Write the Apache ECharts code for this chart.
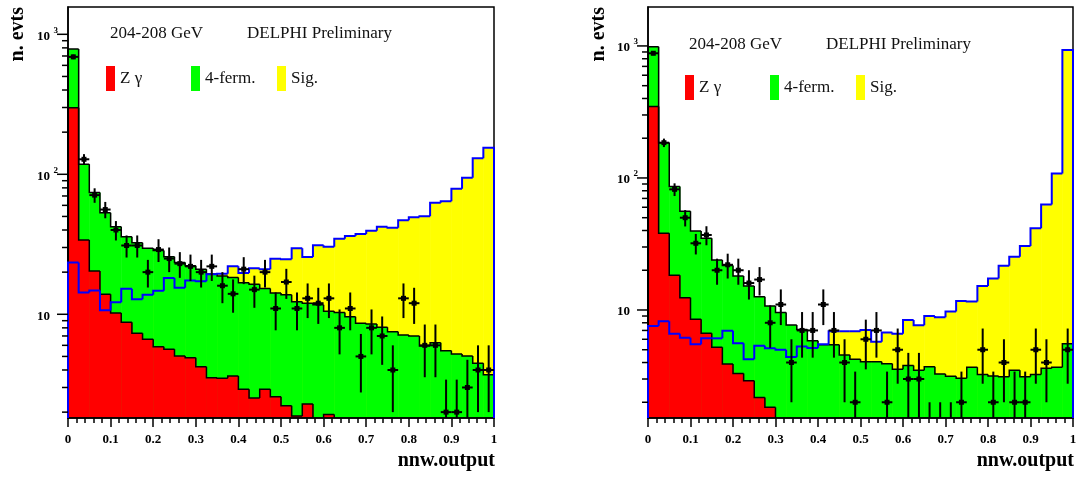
<!DOCTYPE html>
<html><head><meta charset="utf-8">
<script src="https://cdn.jsdelivr.net/npm/echarts@6/dist/echarts.min.js"></script>
<style>html,body{margin:0;padding:0;background:#fff}#c{width:1078px;height:477px}</style>
</head><body><div id="c"></div>
<script>
// ---------- data ----------
const nBins = 40;
const binWidth = 0.025;
const xTickLabels = ['0','0.1','0.2','0.3','0.4','0.5','0.6','0.7','0.8','0.9','1'];
const legendNames = ['Z γ', '4-ferm.', 'Sig.'];
const energyLabel = '204-208 GeV';
const expLabel = 'DELPHI Preliminary';
const yTitle = 'n. evts';
const xTitle = 'nnw.output';

// Left panel
const leftZgamma = [299, 33.9, 20.4, 13.9, 10.2, 8.77, 7.31, 6.63, 5.87, 5.62, 5.04, 4.9, 4.22, 3.52, 3.49, 3.62, 2.91, 2.52, 2.91, 2.58, 2.22, 1.88, 2.29, 0, 1.92, 0, 0, 0, 0, 0, 0, 0, 0, 0, 0, 0, 0, 0, 0, 0];
const leftTotalBkg = [785, 118, 74, 53.2, 42.2, 35.8, 32.5, 29.6, 28.5, 25.8, 23.4, 22.2, 21.0, 19.4, 18.8, 18.3, 16.8, 16.4, 15.3, 14.2, 13.8, 12.3, 12.0, 11.7, 10.5, 10.3, 9.6, 8.62, 8.53, 8.07, 7.51, 7.12, 7.0, 5.94, 6.27, 5.5, 5.21, 5.04, 4.47, 3.7];
const leftSignal = [23.4, 14.3, 14.8, 10.7, 12.2, 15.2, 12.8, 13.8, 14.7, 18.2, 15.5, 17.4, 17.2, 19.3, 19.5, 22.0, 19.7, 21.3, 21.0, 24.9, 24.7, 29.6, 25.7, 31.1, 30.4, 34.6, 36.2, 37.4, 39.5, 42.2, 41.5, 46.9, 49.3, 50.1, 62.6, 64.1, 78.9, 94.6, 130, 155];
const leftData = [690, 128, 71, 56, 40, 31, 31, 20, 29, 25, 23, 22, 20, 22, 16, 14, 21, 15, 20, 11, 17, 11, 13, 12, 13, 8, 11, 5, 8, 7, 4, 13, 12, 6, 6, 2, 2, 3, 4, 4];

// Right panel
const rightZgamma = [347, 38.1, 18.3, 12.4, 8.5, 6.66, 5.21, 3.9, 3.31, 2.91, 2.17, 1.83, 0, 0, 0, 0, 0, 0, 0, 0, 0, 0, 0, 0, 0, 0, 0, 0, 0, 0, 0, 0, 0, 0, 0, 0, 0, 0, 0, 0];
const rightTotalBkg = [988, 185, 86, 56, 39.7, 34.9, 23.9, 21.7, 18.1, 15.2, 12.6, 10.7, 9.55, 7.7, 7.1, 5.85, 5.45, 5.45, 4.56, 4.23, 4.05, 4.06, 3.92, 3.55, 3.8, 3.5, 3.72, 3.28, 3.15, 3.04, 3.68, 3.24, 3.16, 3.12, 3.5, 3.12, 3.25, 3.62, 3.68, 5.55];
const rightSignal = [7.56, 8.2, 6.6, 6.17, 5.49, 6.1, 6.1, 6.97, 5.59, 4.23, 5.37, 5.13, 5.0, 4.4, 5.3, 5.15, 5.5, 6.9, 6.9, 6.9, 7.05, 5.75, 6.75, 6.6, 8.4, 7.65, 9.0, 8.8, 9.75, 11.7, 11.6, 15.2, 17.3, 21.6, 25.3, 30.5, 41.6, 63, 108, 930];
const rightData = [880, 185, 82, 50, 32, 37, 20, 22, 20, 16, 17, 8, 11, 4, 7, 7, 11, 7, 4, 2, 6, 7, 2, 5, 3, 3, 1, 1, 1, 2, 0, 5, 2, 4, 2, 2, 5, 4, 0, 5];

// log-axis tick values
const majorTicks = [10, 100, 1000];
const minorTicks = [2, 3, 4, 5, 6, 7, 8, 9, 20, 30, 40, 50, 60, 70, 80, 90, 200, 300, 400, 500, 600, 700, 800, 900];

// ---------- layout ----------
const FONT = "'Liberation Serif', 'Times New Roman', serif";
const panels = [
  {zg: leftZgamma, tot: leftTotalBkg, sig: leftSignal, dat: leftData, ymin: 1.816, ymax: 1567,
   grid: {left: 68, top: 7, width: 426, height: 411},
   textTop: 24, textX: [110, 247], legTop: 66, legX: [106, 191, 277], yTitleX: 18, xTitleRight: 495},
  {zg: rightZgamma, tot: rightTotalBkg, sig: rightSignal, dat: rightData, ymin: 1.52, ymax: 1972,
   grid: {left: 648, top: 7, width: 425, height: 411},
   textTop: 35, textX: [689, 826], legTop: 75, legX: [685, 770, 856], yTitleX: 599, xTitleRight: 1074}
];

const COLORS = {zg: '#ff0000', ff: '#00ff00', sig: '#ffff00', sigLine: '#0000ff'};

function fillSeries(name, vals, gi, color, ymin, z) {
  return {
    type: 'custom', name, xAxisIndex: gi, yAxisIndex: gi, z, silent: true,
    itemStyle: {color},
    data: vals.map((v, i) => [i * binWidth, v > ymin ? v : ymin, (i + 1) * binWidth, v]),
    encode: {x: [0, 2], y: 1},
    renderItem(params, api) {
      const v = api.value(3);
      if (!(v > ymin)) return null;
      const p0 = api.coord([api.value(0), v]);
      const p1 = api.coord([api.value(2), ymin]);
      return {type: 'rect', shape: {x: p0[0], y: p0[1], width: p1[0] - p0[0] + 0.5, height: p1[1] - p0[1]},
              style: {fill: color}};
    }
  };
}

function outlineSeries(name, vals, gi, color, width, ymin, z) {
  return {
    type: 'custom', name, xAxisIndex: gi, yAxisIndex: gi, z, silent: true,
    itemStyle: {color},
    data: vals.map((v, i) => [i * binWidth, v > ymin ? v : ymin, (i + 1) * binWidth, v,
                              i > 0 ? vals[i - 1] : 0, i === vals.length - 1 ? 1 : 0]),
    encode: {x: [0, 2], y: 1},
    renderItem(params, api) {
      const v = api.value(3), pv = api.value(4), last = api.value(5);
      const yb = api.coord([0, ymin])[1];
      const yOf = u => (u > ymin ? api.coord([0, u])[1] : yb);
      const x0 = api.coord([api.value(0), ymin])[0];
      const x1 = api.coord([api.value(2), ymin])[0];
      const yv = yOf(v), yp = yOf(pv);
      const pts = [[x0, yp], [x0, yv]];
      if (v > ymin) pts.push([x1, yv]);
      if (last && v > ymin) pts.push([x1, yb]);
      if (pts.length === 2 && yp === yv) return null;
      return {type: 'polyline', shape: {points: pts},
              style: {stroke: color, lineWidth: width, fill: null, lineJoin: 'miter'}};
    }
  };
}

function dataSeries(vals, gi, ymin, z) {
  return {
    type: 'custom', name: 'Data', xAxisIndex: gi, yAxisIndex: gi, z, silent: true,
    itemStyle: {color: '#000'},
    data: vals.map((n, i) => [(i + 0.5) * binWidth, n > ymin ? n : ymin, n, i * binWidth, (i + 1) * binWidth]),
    encode: {x: 0, y: 1},
    renderItem(params, api) {
      const n = api.value(2);
      if (!(n > 0)) return null;
      const yb = api.coord([0, ymin])[1];
      const yOf = u => (u > ymin ? api.coord([0, u])[1] : yb);
      const xc = api.coord([api.value(0), ymin])[0];
      const xl = api.coord([api.value(3), ymin])[0];
      const xr = api.coord([api.value(4), ymin])[0];
      const e = Math.sqrt(n);
      const yTop = yOf(n + e), yBot = yOf(n - e);
      const children = [{type: 'line', shape: {x1: xc, y1: yTop, x2: xc, y2: yBot},
                         style: {stroke: '#000', lineWidth: 2}}];
      if (n > ymin) {
        const yn = yOf(n);
        children.push({type: 'line', shape: {x1: xl, y1: yn, x2: xr, y2: yn}, style: {stroke: '#000', lineWidth: 2}});
        children.push({type: 'rect', shape: {x: xc - 2.5, y: yn - 2.5, width: 5, height: 5}, style: {fill: '#000'}});
      }
      return {type: 'group', children};
    }
  };
}

function tickSeries(ticks, gi, len, ymin, ymax, z) {
  return {
    type: 'custom', name: 'yticks' + gi + '_' + len, xAxisIndex: gi, yAxisIndex: gi, z, silent: true,
    data: ticks.filter(v => v >= ymin && v <= ymax).map(v => [0, v]),
    encode: {x: 0, y: 1},
    renderItem(params, api) {
      const p = api.coord([api.value(0), api.value(1)]);
      return {type: 'line', shape: {x1: p[0] - len, y1: p[1], x2: p[0], y2: p[1]},
              style: {stroke: '#000', lineWidth: 1.5}};
    }
  };
}

const grids = [], xAxes = [], yAxes = [], series = [], titles = [], legends = [], graphics = [];

panels.forEach((P, gi) => {
  grids.push(Object.assign({show: true, borderColor: '#000', borderWidth: 1.5, backgroundColor: 'transparent',
                            z: 5, containLabel: false, outerBoundsMode: 'none'}, P.grid));
  xAxes.push({
    type: 'value', gridIndex: gi, min: 0, max: 1, interval: 0.1, z: 5,
    axisLine: {show: true, lineStyle: {color: '#000', width: 1.5}},
    axisTick: {show: true, length: 9, lineStyle: {color: '#000', width: 1.5}},
    minorTick: {show: true, splitNumber: 5, length: 5, lineStyle: {color: '#000', width: 1.5}},
    splitLine: {show: false}, minorSplitLine: {show: false},
    axisLabel: {margin: 15, fontFamily: FONT, fontWeight: 'bold', fontSize: 13, color: '#000',
                formatter: v => xTickLabels[Math.round(v * 10)]}
  });
  yAxes.push({
    type: 'log', logBase: 10, gridIndex: gi, min: P.ymin, max: P.ymax, z: 5,
    axisLine: {show: true, lineStyle: {color: '#000', width: 1.5}},
    axisTick: {show: false}, minorTick: {show: false},
    splitLine: {show: false}, minorSplitLine: {show: false},
    axisLabel: {
      margin: 10, showMinLabel: false, showMaxLabel: false,
      formatter: v => {
        const l = Math.log10(v), e = Math.round(l);
        if (Math.abs(l - e) > 1e-6) return '';
        return e === 1 ? '{b|10}{s| }' : '{b|10}{s|' + e + '}';
      },
      rich: {
        b: {fontFamily: FONT, fontWeight: 'bold', fontSize: 13, color: '#000', padding: [4, 0, 0, 0], verticalAlign: 'bottom'},
        s: {fontFamily: FONT, fontWeight: 'bold', fontSize: 9, color: '#000', width: 8, align: 'right', verticalAlign: 'top'}
      }
    }
  });

  series.push(fillSeries(legendNames[2], P.sig, gi, COLORS.sig, P.ymin, 2));
  series.push(fillSeries(legendNames[1], P.tot, gi, COLORS.ff, P.ymin, 3));
  series.push(fillSeries(legendNames[0], P.zg, gi, COLORS.zg, P.ymin, 4));
  series.push(outlineSeries('Total background', P.tot, gi, '#000', 1.5, P.ymin, 6));
  series.push(outlineSeries('Z γ outline', P.zg, gi, '#000', 1.5, P.ymin, 6));
  series.push(outlineSeries('Signal', P.sig, gi, COLORS.sigLine, 2, P.ymin, 7));
  series.push(dataSeries(P.dat, gi, P.ymin, 8));
  series.push(tickSeries(majorTicks, gi, 11, P.ymin, P.ymax, 9));
  series.push(tickSeries(minorTicks, gi, 6, P.ymin, P.ymax, 9));

  const ts = {fontFamily: FONT, fontSize: 17, fontWeight: 'normal', color: '#111', lineHeight: 20};
  titles.push({text: energyLabel, left: P.textX[0], top: P.textTop, padding: 0, textStyle: ts});
  titles.push({text: expLabel, left: P.textX[1], top: P.textTop, padding: 0, textStyle: ts});

  const legColors = [COLORS.zg, COLORS.ff, COLORS.sig];
  legendNames.forEach((nm, k) => {
    legends.push({
      data: [{name: nm, itemStyle: {color: legColors[k], borderWidth: 0}}],
      left: P.legX[k], top: P.legTop, padding: 0, itemGap: 0, itemWidth: 9, itemHeight: 25,
      icon: 'rect', selectedMode: false,
      textStyle: {fontFamily: FONT, fontSize: 17, color: '#111', padding: [0, 0, 5, 0]}
    });
  });

  graphics.push({type: 'text', x: P.yTitleX, y: 7, rotation: Math.PI / 2, z: 10,
                 style: {text: yTitle, font: "bold 20px 'Liberation Serif'", fill: '#000', align: 'right', verticalAlign: 'middle'}});
  graphics.push({type: 'text', x: P.xTitleRight, y: 461, z: 10,
                 style: {text: xTitle, font: "bold 20px 'Liberation Serif'", fill: '#000', align: 'right', verticalAlign: 'middle'}});
});

const chart = echarts.init(document.getElementById('c'), null, {renderer: 'canvas'});
chart.setOption({
  backgroundColor: '#fff',
  animation: false,
  title: titles,
  legend: legends,
  grid: grids,
  xAxis: xAxes,
  yAxis: yAxes,
  series: series,
  graphic: graphics
});
</script>
</body></html>
